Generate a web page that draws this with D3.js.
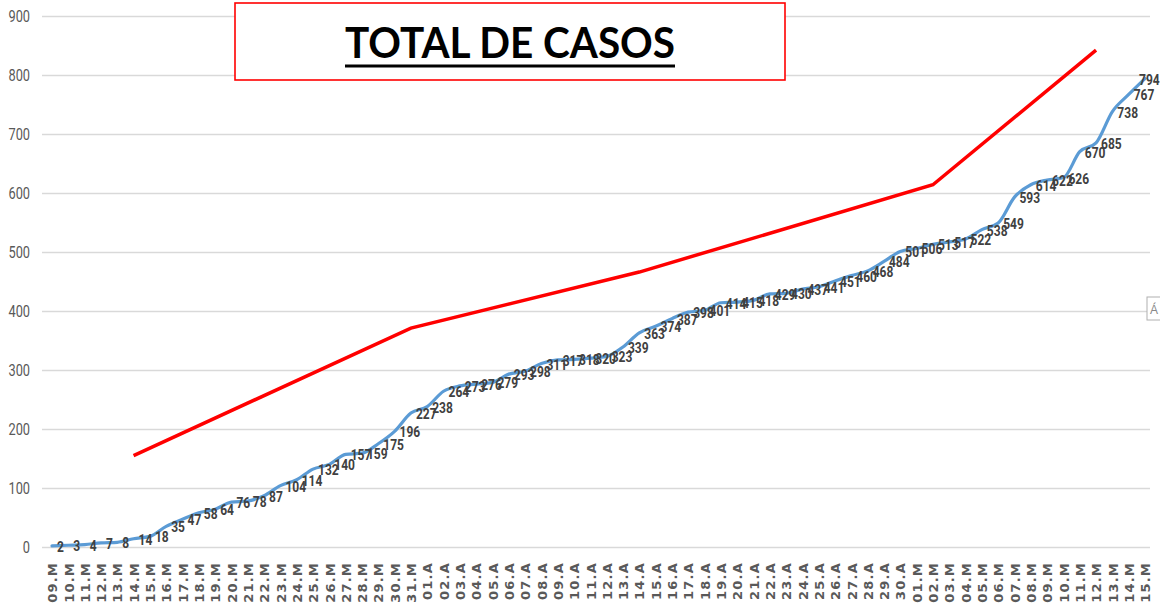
<!DOCTYPE html>
<html>
<head>
<meta charset="utf-8">
<script src="https://cdn.jsdelivr.net/npm/d3@7"></script>
<style>
  body { margin: 0; background: #fff; }
  svg { display: block; }
</style>
</head>
<body>
<svg width="1160" height="609"></svg>
<script>
const width = 1160
const height = 609

// dates: 09.M .. 31.M, 01.A .. 30.A, 01.M .. 15.M
const days = ["09.M","10.M","11.M","12.M","13.M","14.M","15.M","16.M","17.M","18.M","19.M","20.M","21.M","22.M","23.M","24.M","25.M","26.M","27.M","28.M","29.M","30.M","31.M",
  "01.A","02.A","03.A","04.A","05.A","06.A","07.A","08.A","09.A","10.A","11.A","12.A","13.A","14.A","15.A","16.A","17.A","18.A","19.A","20.A","21.A","22.A","23.A","24.A","25.A","26.A","27.A","28.A","29.A","30.A",
  "01.M","02.M","03.M","04.M","05.M","06.M","07.M","08.M","09.M","10.M","11.M","12.M","13.M","14.M","15.M"]
const casos = [2,3,4,7,8,14,18,35,47,58,64,76,78,87,104,114,132,140,157,159,175,196,227,238,264,273,276,279,293,298,
  311,317,318,320,323,339,363,374,387,398,401,414,415,418,429,430,437,441,451,460,468,484,501,506,513,517,522,538,549,
  593,614,622,626,670,685,738,767,794]
const yTicks = [0,100,200,300,400,500,600,700,800,900]

// red hand drawn trend (index of day, value)
const trendIdx = [5, 22, 36, 54, 64]
const trendVal = [155, 371, 466, 614, 842]

const titulo = "TOTAL DE CASOS"

const svg = d3.select("svg")

const x = d3.scalePoint().domain(d3.range(days.length)).range([52, 1145])
const y = d3.scaleLinear().domain([0, 900]).range([547, 16])

// condensed look: squeeze a normal font horizontally
const squeeze = 0.8

// y axis + gridlines
const yAxis = svg.append("g").attr("transform", "translate(42,0)")
  .call(d3.axisLeft(y).tickValues(yTicks).tickSize(-1108).tickPadding(11))
yAxis.select(".domain").remove()
yAxis.selectAll(".tick line").attr("stroke", "#d9d9d9").attr("stroke-width", 1.3)
yAxis.selectAll(".tick text")
  .attr("x", -12 / squeeze)
  .attr("transform", "scale(" + squeeze + ",1)")
  .attr("fill", "#595959")
  .style("font-family", "Roboto, sans-serif")
  .style("font-size", "16px")

// x axis labels, rotated
const xAxis = svg.append("g").attr("transform", "translate(0,547)")
  .call(d3.axisBottom(x).tickSize(0).tickFormat(i => days[i]))
xAxis.select(".domain").remove()
xAxis.selectAll(".tick text")
  .attr("transform", "rotate(-90)")
  .attr("x", -15).attr("y", 0).attr("dy", "0.36em")
  .attr("text-anchor", "end")
  .attr("fill", "#595959")
  .style("font-family", "'DejaVu Sans', Verdana, sans-serif")
  .style("font-weight", "bold")
  .style("font-size", "13px")
  .style("letter-spacing", "1.2px")

// title box
svg.append("rect").attr("x", 235).attr("y", 3).attr("width", 550).attr("height", 77)
  .attr("fill", "#fff").attr("stroke", "#ff0000").attr("stroke-width", 1.6)
svg.append("text").attr("x", 510).attr("y", 58).attr("text-anchor", "middle")
  .attr("textLength", 330).attr("lengthAdjust", "spacingAndGlyphs")
  .style("font-family", "Lato, 'Liberation Sans', sans-serif")
  .style("font-weight", "bold").style("font-size", "42px")
  .attr("fill", "#000").text(titulo)
svg.append("line").attr("x1", 345).attr("x2", 675).attr("y1", 66).attr("y2", 66)
  .attr("stroke", "#000").attr("stroke-width", 3)

// main series
const line = d3.line().x((d, i) => x(i)).y(d => y(d)).curve(d3.curveMonotoneX)
svg.append("path").datum(casos).attr("d", line)
  .attr("fill", "none").attr("stroke", "#5b9bd5").attr("stroke-width", 3.2)
  .attr("stroke-linejoin", "round").attr("stroke-linecap", "round")

// data labels (right of each point; the last one is pushed back inside the frame)
const last = casos.length - 1
svg.append("g").selectAll("text").data(casos).enter().append("text")
  .attr("transform", (d, i) => "translate(" + (i === last ? x(i) - 6 : x(i) + 5) + "," + y(d) + ") scale(" + squeeze + ",1)")
  .attr("dy", "0.4em")
  .attr("fill", "#404040")
  .style("font-family", "Roboto, sans-serif")
  .style("font-weight", "bold")
  .style("font-size", "15px")
  .text(d => d)

// red trend line
const trend = trendIdx.map((d, i) => [x(d), y(trendVal[i])])
svg.append("path").datum(trend).attr("d", d3.line())
  .attr("fill", "none").attr("stroke", "#ff0000").attr("stroke-width", 3.5)
  .attr("stroke-linejoin", "miter")

// small paste icon at right edge
svg.append("rect").attr("x", 1147).attr("y", 297).attr("width", 16).attr("height", 23)
  .attr("fill", "#fff").attr("stroke", "#b0b0b0").attr("stroke-width", 1)
svg.append("text").attr("x", 1150).attr("y", 314).attr("fill", "#888")
  .style("font-family", "'Liberation Sans', sans-serif").style("font-size", "12px").text("Á")
</script>
</body>
</html>
